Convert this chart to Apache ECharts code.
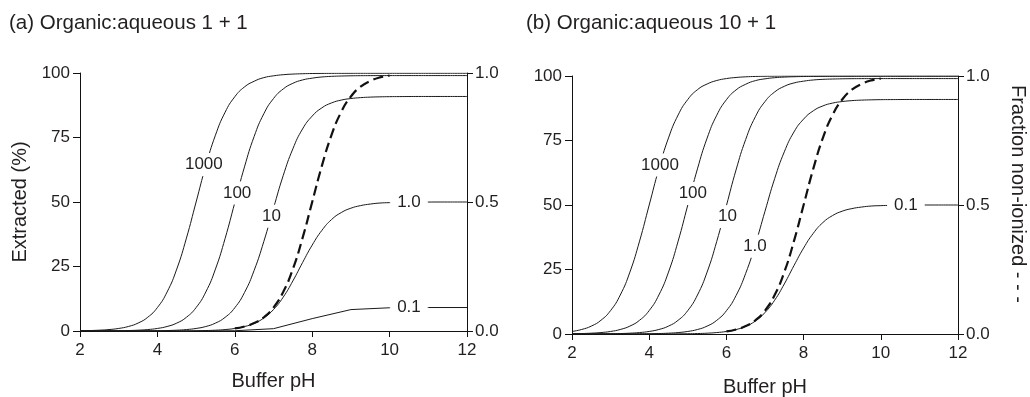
<!DOCTYPE html>
<html>
<head>
<meta charset="utf-8">
<script src="https://cdn.jsdelivr.net/npm/echarts@6/dist/echarts.min.js"></script>
<style>
  html, body { margin: 0; padding: 0; background: #fff; }
  #chart { width: 1030px; height: 397px; }
</style>
</head>
<body>
<div id="chart"></div>
<script>
// buffer pH, every 0.25 unit
const ph = [2, 2.25, 2.5, 2.75, 3, 3.25, 3.5, 3.75, 4, 4.25, 4.5, 4.75, 5, 5.25, 5.5, 5.75, 6, 6.25, 6.5, 6.75,
  7, 7.25, 7.5, 7.75, 8, 8.25, 8.5, 8.75, 9, 9.25, 9.5, 9.75, 10, 10.25, 10.5, 10.75, 11, 11.25, 11.5, 11.75, 12];
// the 0.1 curve of panel (a) is drawn with straight segments between whole pH units
const phWhole = [2, 3, 4, 5, 6, 7, 8, 9, 10, 11, 12];
const phDashed = [6, 6.25, 6.5, 6.75, 7, 7.25, 7.5, 7.75, 8, 8.25, 8.5, 8.75, 9, 9.25, 9.5, 9.75, 10];

// extracted (%) curves, named by partition coefficient x volume ratio
// panel (a) 1 + 1 shows 1000, 100, 10, 1 ; panel (b) 10 + 1 shows 10000, 1000, 100, 10, 1
const ext10000 = [0.99, 1.75, 3.07, 5.32, 9.09, 15.1, 24.0, 36.0, 50.0, 64.0, 76.0, 84.9, 90.9, 94.7, 96.9, 98.25,
  99.0, 99.43, 99.68, 99.82, 99.9, 99.93, 99.96, 99.97, 99.98, 99.98, 99.99, 99.99, 99.99, 99.99, 99.99, 99.99, 99.99,
  100, 100, 100, 100, 100, 100, 100, 100];
const ext1000 = [0.1, 0.18, 0.32, 0.56, 0.99, 1.75, 3.07, 5.32, 9.09, 15.1, 24.0, 36.0, 50.0, 64.0, 75.9, 84.8,
  90.8, 94.6, 96.8, 98.2, 98.9, 99.34, 99.58, 99.72, 99.8, 99.84, 99.87, 99.88, 99.89,
  99.9, 99.9, 99.9, 99.9, 99.9, 99.9, 99.9, 99.9, 99.9, 99.9, 99.9, 99.9];
const ext100 = [0.01, 0.02, 0.03, 0.06, 0.1, 0.18, 0.32, 0.56, 0.99, 1.75, 3.06, 5.32, 9.08, 15.1, 24.0, 35.9,
  49.75, 63.6, 75.4, 84.2, 90.1, 93.8, 96.0, 97.3, 98.0, 98.46, 98.7, 98.83, 98.91, 98.96, 98.98, 98.99,
  99.0, 99.0, 99.0, 99.0, 99.0, 99.0, 99.0, 99.0, 99.0];
const ext10 = [0, 0, 0, 0.01, 0.01, 0.02, 0.03, 0.06, 0.1, 0.18, 0.32, 0.56, 0.99, 1.74, 3.06, 5.3,
  9.01, 14.9, 23.5, 34.7, 47.6, 60.2, 70.6, 78.3, 83.3, 86.5, 88.4, 89.5, 90.1, 90.45, 90.65, 90.76,
  90.83, 90.86, 90.88, 90.9, 90.9, 90.9, 90.9, 90.9, 90.9];
const ext1 = [0, 0, 0, 0, 0, 0, 0, 0.01, 0.01, 0.02, 0.03, 0.06, 0.1, 0.18, 0.31, 0.56,
  0.98, 1.72, 2.97, 5.05, 8.33, 13.1, 19.4, 26.5, 33.3, 39.0, 43.2, 45.9, 47.6, 48.6, 49.2, 49.6,
  49.75, 49.86, 49.92, 49.96, 49.98, 50, 50, 50, 50];
const ext01Whole = [0, 0, 0, 0, 0.1, 0.9, 4.8, 8.3, 9.0, 9.1, 9.1];

// fraction non-ionized (dashed, right axis), same in both panels
const nonIonized = [0.0099, 0.0175, 0.0307, 0.0532, 0.0909, 0.151, 0.24, 0.36, 0.5, 0.64, 0.76, 0.849, 0.909, 0.947, 0.969, 0.983, 0.99];

// curve labels: text, pH, extracted (%)
const aLabels = [["1000", 5.2, 64.5], ["100", 6.06, 53.5], ["10", 6.95, 44.5], ["1.0", 10.5, 49.8], ["0.1", 10.5, 9.1]];
const bLabels = [["1000", 4.28, 65.5], ["100", 5.13, 54.5], ["10", 6.03, 45.5], ["1.0", 6.74, 34], ["0.1", 10.65, 50]];

const FONT = "'Liberation Sans', Arial, Helvetica, sans-serif";
const INK = "#231f20";

const pairs = (xs, ys) => xs.map((x, i) => [x, ys[i]]);

function curve(panel, xs, ys, lab, smooth) {
  const flat = lab[1] > 10; // labels sitting on the plateau line
  return {
    type: "line",
    xAxisIndex: panel,
    yAxisIndex: panel * 2,
    data: pairs(xs, ys),
    smooth: smooth,
    symbol: "none",
    silent: true,
    lineStyle: { color: "#1a1a1a", width: 1 },
    markPoint: {
      silent: true,
      symbol: "circle",
      symbolSize: 1,
      itemStyle: { color: "rgba(0,0,0,0)" },
      label: {
        show: true,
        position: "inside",
        formatter: lab[0],
        color: INK,
        fontFamily: FONT,
        fontSize: 17,
        backgroundColor: "#fff",
        padding: flat ? [2, 7] : [3, 2]
      },
      data: [{ coord: [lab[1], lab[2]] }]
    }
  };
}

function dashed(panel) {
  return {
    type: "line",
    xAxisIndex: panel,
    yAxisIndex: panel * 2 + 1,
    data: pairs(phDashed, nonIonized),
    smooth: 0.5,
    symbol: "none",
    silent: true,
    z: 3,
    lineStyle: { color: "#111", width: 2.2, type: [10, 5] }
  };
}

const axisLine = { show: true, lineStyle: { color: "#111", width: 1 } };
const tick = { show: true, inside: false, length: 6, lineStyle: { color: "#111" } };

function xAxis(panel, gap) {
  return {
    type: "value", gridIndex: panel, min: 2, max: 12, interval: 2,
    axisLine: axisLine, axisTick: tick, splitLine: { show: false },
    axisLabel: { color: INK, fontFamily: FONT, fontSize: 17, margin: 11 },
    name: "Buffer pH", nameLocation: "middle", nameGap: gap, nameMoveOverlap: false,
    nameTextStyle: { color: INK, fontFamily: FONT, fontSize: 20 }
  };
}

function yLeft(panel, name) {
  return {
    type: "value", gridIndex: panel, position: "left", min: 0, max: 100, interval: 25,
    axisLine: axisLine, axisTick: Object.assign({}, tick, { length: 7 }), splitLine: { show: false },
    axisLabel: { color: INK, fontFamily: FONT, fontSize: 17, margin: 10 },
    name: name, nameLocation: "middle", nameGap: 50, nameMoveOverlap: false,
    nameTextStyle: { color: INK, fontFamily: FONT, fontSize: 20 }
  };
}

function yRight(panel, name) {
  return {
    type: "value", gridIndex: panel, position: "right", min: 0, max: 1, interval: 0.5,
    axisLine: axisLine, axisTick: tick, splitLine: { show: false },
    axisLabel: { color: INK, fontFamily: FONT, fontSize: 17, margin: 8, formatter: v => v.toFixed(1) },
    name: name, nameLocation: "middle", nameRotate: -90, nameGap: 50, nameMoveOverlap: false,
    nameTextStyle: { color: INK, fontFamily: FONT, fontSize: 20, padding: [0, 22, 0, 0] }
  };
}

const chart = echarts.init(document.getElementById("chart"), null, { renderer: "canvas" });

chart.setOption({
  animation: false,
  backgroundColor: "#fff",
  title: [
    { text: "(a) Organic:aqueous 1 + 1", left: 4, top: 8,
      textStyle: { color: INK, fontFamily: FONT, fontSize: 20.5, fontWeight: "normal" } },
    { text: "(b) Organic:aqueous 10 + 1", left: 521, top: 8,
      textStyle: { color: INK, fontFamily: FONT, fontSize: 20.5, fontWeight: "normal" } }
  ],
  grid: [
    { left: 80, top: 73, width: 387, height: 258, outerBoundsMode: "none" },
    { left: 572, top: 76, width: 386, height: 258, outerBoundsMode: "none" }
  ],
  xAxis: [xAxis(0, 40), xAxis(1, 43)],
  yAxis: [yLeft(0, "Extracted (%)"), yRight(0, ""), yLeft(1, ""), yRight(1, "Fraction non-ionized - - -")],
  series: [
    curve(0, ph, ext1000, aLabels[0], 0.5),
    curve(0, ph, ext100, aLabels[1], 0.5),
    curve(0, ph, ext10, aLabels[2], 0.5),
    curve(0, ph, ext1, aLabels[3], 0.5),
    curve(0, phWhole, ext01Whole, aLabels[4], false),
    dashed(0),
    curve(1, ph, ext10000, bLabels[0], 0.5),
    curve(1, ph, ext1000, bLabels[1], 0.5),
    curve(1, ph, ext100, bLabels[2], 0.5),
    curve(1, ph, ext10, bLabels[3], 0.5),
    curve(1, ph, ext1, bLabels[4], 0.5),
    dashed(1)
  ]
});
</script>
</body>
</html>
